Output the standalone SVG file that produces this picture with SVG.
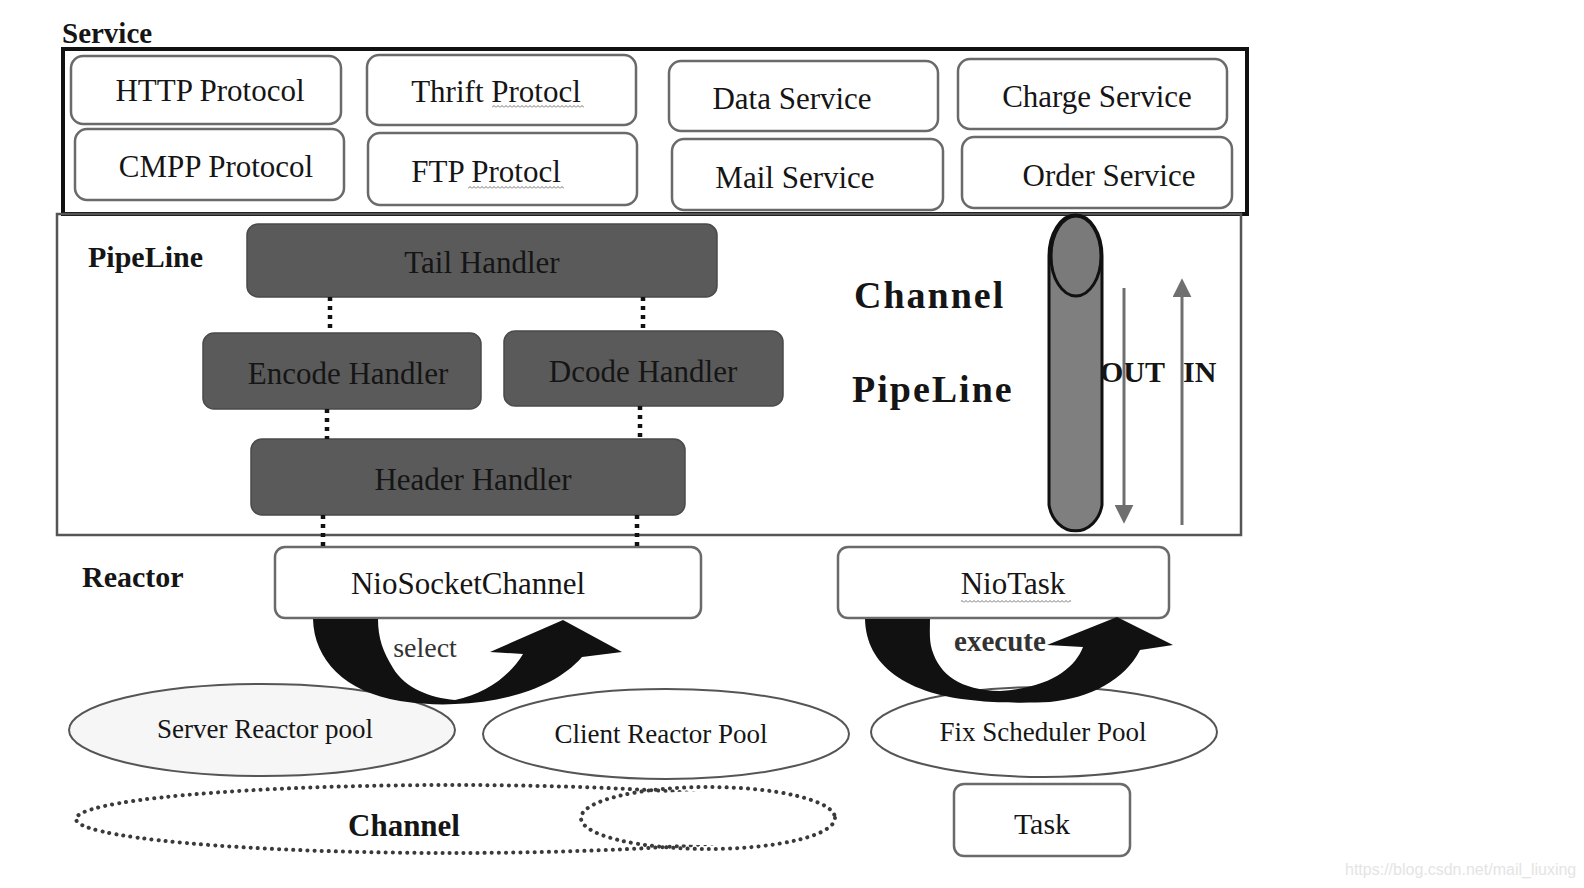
<svg xmlns="http://www.w3.org/2000/svg" width="1584" height="888" viewBox="0 0 1584 888">
<defs>
<style>
.t{font-family:"Liberation Serif","Times New Roman",serif;fill:#151515;text-anchor:middle}
.b{font-weight:bold}
.lbl{font-family:"Liberation Serif","Times New Roman",serif;font-weight:bold;fill:#151515}
.box{fill:#fff;stroke:#6a6a6a;stroke-width:2.5}
.hd{fill:#5a5a5a;stroke:#4a4a4a;stroke-width:1.5}
.dot{stroke:#111;stroke-width:4.5;stroke-dasharray:4 5;fill:none}
.pool{stroke:#555;stroke-width:2;}
.dell{fill:none;stroke:#3a3a3a;stroke-width:4;stroke-dasharray:0.1 7;stroke-linecap:round}
.big{fill:#111}
.flow{stroke:#6f6f6f;stroke-width:3;fill:none}
</style>
<pattern id="wave" width="4" height="3" patternUnits="userSpaceOnUse"><path d="M0 2.5 L2 0.5 L4 2.5" fill="none" stroke="#666" stroke-width="0.9"/></pattern>
<marker id="ah" viewBox="0 0 10 10" refX="8" refY="5" markerWidth="19" markerHeight="19" orient="auto" markerUnits="userSpaceOnUse">
<path d="M0 0 L10 5 L0 10 Z" fill="#6f6f6f"/>
</marker>
<mask id="smallhole" maskUnits="userSpaceOnUse" x="0" y="0" width="1584" height="888">
<rect width="1584" height="888" fill="#fff"/>
<ellipse cx="708" cy="818" rx="123" ry="27" fill="#000"/>
</mask>
</defs>
<rect width="1584" height="888" fill="#fff"/>

<g id="service">
<text class="lbl" x="62" y="43" font-size="29">Service</text>
<rect x="63" y="49" width="1184" height="165" fill="none" stroke="#111" stroke-width="4"/>
</g>
<g id="pipeline-area">
<rect x="57" y="214" width="1184" height="321" fill="none" stroke="#555" stroke-width="2.5"/>
<text class="lbl" x="88" y="267" font-size="30">PipeLine</text>
</g>

<g id="http"><rect class="box" x="71" y="56" width="270" height="68" rx="12"/><text class="t" x="210" y="101" font-size="31">HTTP Protocol</text></g>
<g id="cmpp"><rect class="box" x="75" y="129" width="269" height="71" rx="12"/><text class="t" x="216" y="177" font-size="31">CMPP Protocol</text></g>
<g id="thrift"><rect class="box" x="367" y="55" width="269" height="70" rx="12"/><text class="t" x="496" y="102" font-size="31">Thrift Protocl</text><rect x="492" y="105" width="92" height="3" fill="url(#wave)"/></g>
<g id="ftp"><rect class="box" x="368" y="133" width="269" height="72" rx="12"/><text class="t" x="486" y="182" font-size="31">FTP Protocl</text><rect x="468" y="186" width="96" height="3" fill="url(#wave)"/></g>
<g id="data"><rect class="box" x="669" y="61" width="269" height="70" rx="12"/><text class="t" x="792" y="109" font-size="31">Data Service</text></g>
<g id="mail"><rect class="box" x="672" y="139" width="271" height="71" rx="12"/><text class="t" x="795" y="188" font-size="31">Mail Service</text></g>
<g id="charge"><rect class="box" x="958" y="59" width="269" height="70" rx="12"/><text class="t" x="1097" y="107" font-size="31">Charge Service</text></g>
<g id="order"><rect class="box" x="962" y="137" width="270" height="71" rx="12"/><text class="t" x="1109" y="186" font-size="31">Order Service</text></g>

<g id="tail"><rect class="hd" x="247" y="224" width="470" height="73" rx="11"/><text class="t" x="482" y="273" font-size="31">Tail Handler</text></g>
<g id="encode"><rect class="hd" x="203" y="333" width="278" height="76" rx="11"/><text class="t" x="348" y="384" font-size="31">Encode Handler</text></g>
<g id="dcode"><rect class="hd" x="504" y="331" width="279" height="75" rx="11"/><text class="t" x="643" y="382" font-size="31">Dcode Handler</text></g>
<g id="header"><rect class="hd" x="251" y="439" width="434" height="76" rx="11"/><text class="t" x="473" y="490" font-size="31">Header Handler</text></g>

<g id="channel-pipeline">
<text class="lbl" x="854" y="308" font-size="38" letter-spacing="2">Channel</text>
<text class="lbl" x="852" y="402" font-size="38" letter-spacing="2">PipeLine</text>
</g>
<g id="cylinder">
<path d="M1049 256 L1049 505 A27 32 0 0 0 1102 505 L1102 256 A26.5 41 0 0 0 1049 256 Z" fill="#7f7f7f" stroke="#111" stroke-width="3"/>
<ellipse cx="1076" cy="256" rx="25" ry="40" fill="#7a7a7a" stroke="#111" stroke-width="3"/>
</g>
<g id="out-in-labels">
<text class="lbl" x="1100" y="382" font-size="30">OUT</text>
<text class="lbl" x="1183" y="382" font-size="30">IN</text>
</g>

<g id="reactor">
<text class="lbl" x="82" y="587" font-size="30">Reactor</text>
</g>
<g id="niosocketchannel"><rect class="box" x="275" y="547" width="426" height="71" rx="10" stroke="#555"/><text class="t" x="468" y="594" font-size="31">NioSocketChannel</text></g>
<g id="niotask"><rect class="box" x="838" y="547" width="331" height="71" rx="10" stroke="#555"/><text class="t" x="1013" y="594" font-size="31">NioTask</text><rect x="961" y="600" width="110" height="3" fill="url(#wave)"/></g>

<g id="server-pool"><ellipse class="pool" cx="262" cy="730" rx="193" ry="46" fill="#f6f6f6"/><text class="t" x="265" y="738" font-size="27">Server Reactor pool</text></g>
<g id="client-pool"><ellipse class="pool" cx="666" cy="734" rx="183" ry="45" fill="#fff"/><text class="t" x="661" y="743" font-size="27">Client Reactor Pool</text></g>
<g id="fix-pool"><ellipse class="pool" cx="1044" cy="732" rx="173" ry="45" fill="#fff"/><text class="t" x="1043" y="741" font-size="27">Fix Scheduler Pool</text></g>

<g id="channel-dotted">
<ellipse class="dell" cx="452" cy="819" rx="376" ry="34" mask="url(#smallhole)"/>
<ellipse class="dell" cx="708" cy="818" rx="127" ry="31"/>
<text class="t b" x="404" y="836" font-size="31">Channel</text>
</g>
<g id="task"><rect class="box" x="954" y="784" width="176" height="72" rx="10" stroke="#555"/><text class="t" x="1042" y="834" font-size="30">Task</text></g>

<g id="connectors">
<line class="dot" x1="330" y1="297" x2="330" y2="333"/>
<line class="dot" x1="643" y1="297" x2="643" y2="331"/>
<line class="dot" x1="327" y1="409" x2="327" y2="439"/>
<line class="dot" x1="640" y1="406" x2="640" y2="439"/>
<line class="dot" x1="323" y1="515" x2="323" y2="546"/>
<line class="dot" x1="637" y1="515" x2="637" y2="546"/>
<line class="flow" x1="1124" y1="288" x2="1124" y2="520" marker-end="url(#ah)"/>
<line class="flow" x1="1182" y1="525" x2="1182" y2="282" marker-end="url(#ah)"/>
<path class="big" d="M313 619 C314 660 345 692 400 701 C420 704 440 705 455 704 C505 702 555 688 582 657 L622 652 L563 620 L490 652 L523 654 C510 676 485 694 455 700 C430 698 405 688 393 668 C383 652 378 638 378 619 Z"/>
<path class="big" d="M865 619 C866 665 905 695 980 701 C1000 703 1030 703 1050 702 C1090 698 1125 680 1140 650 L1173 645 L1117 617 L1047 645 L1083 647 C1075 668 1050 688 1000 691 C960 690 940 675 932 650 C929 640 930 630 930 619 Z"/>
<text class="t" x="425" y="657" font-size="28" style="fill:#333">select</text>
<text class="t b" x="1000" y="651" font-size="29" style="fill:#333">execute</text>
</g>

<text x="1345" y="875" font-family="Liberation Sans, Arial, sans-serif" font-size="16" fill="#e4e4e4">https://blog.csdn.net/mail_liuxing</text>
</svg>
